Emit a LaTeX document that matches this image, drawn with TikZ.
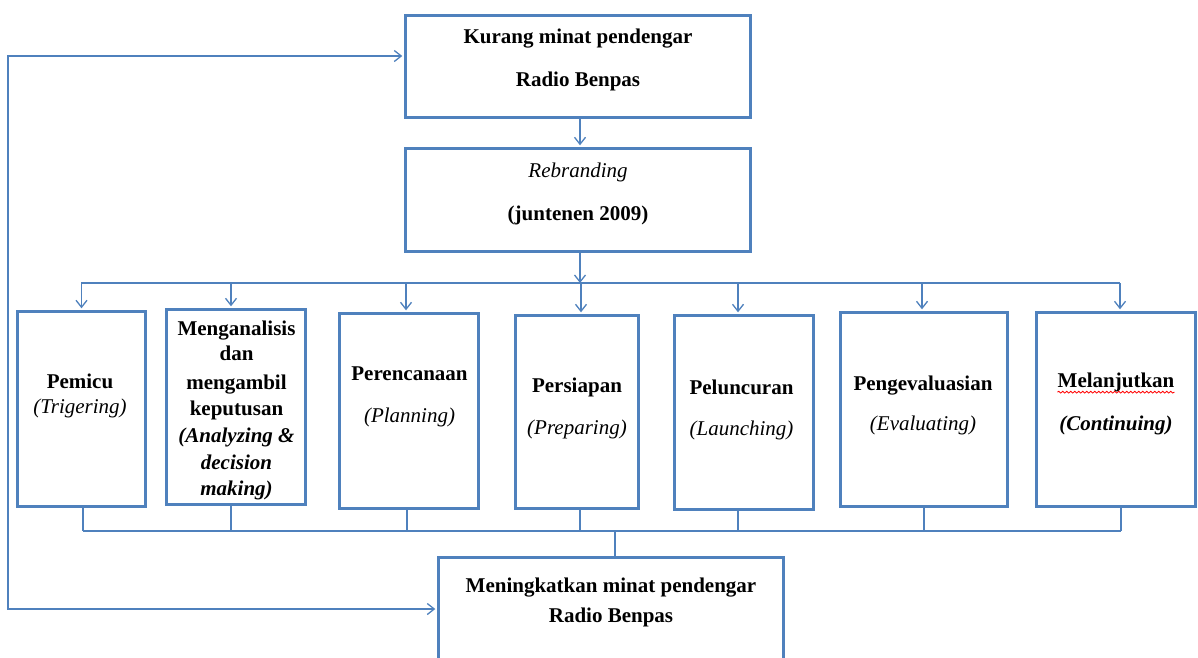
\documentclass[tikz,border=0pt]{standalone}
\usepackage{fontspec}
\setmainfont{Liberation Serif}
\usetikzlibrary{arrows.meta,decorations.pathmorphing}
\definecolor{boxblue}{HTML}{4F81BD}
\definecolor{linkblue}{HTML}{4F81BD}
\begin{document}
\begin{tikzpicture}[x=1pt,y=-1pt,
  box/.style={draw=boxblue,line width=3.2pt,inner sep=0pt},
  conn/.style={draw=linkblue,line width=1.3pt},
  barb/.tip={Straight Barb[length=7pt,width=11pt,line width=1.3pt]},
  arr/.style={conn,-barb,shorten >=1.6pt},
  lbl/.style={font=\fontsize{21}{25}\selectfont\bfseries,anchor=base,inner sep=0pt},
  ilbl/.style={font=\fontsize{21}{25}\selectfont\itshape,anchor=base,inner sep=0pt},
  bilbl/.style={font=\fontsize{21}{25}\selectfont\bfseries\itshape,anchor=base,inner sep=0pt}]

\useasboundingbox (0,0) rectangle (1198,657);
\clip (0,0) rectangle (1198,657);

% boxes
\node[box,minimum width=345,minimum height=102] (top) at (578,66.5) {};
\node[box,minimum width=345,minimum height=103] (reb) at (578,200) {};
\node[box,minimum width=128,minimum height=195] (b1) at (81.5,409) {};
\node[box,minimum width=139,minimum height=195] (b2) at (236,407) {};
\node[box,minimum width=139,minimum height=195] (b3) at (409,411) {};
\node[box,minimum width=123,minimum height=193] (b4) at (577,412) {};
\node[box,minimum width=139,minimum height=194] (b5) at (744,412.5) {};
\node[box,minimum width=167,minimum height=194] (b6) at (924,409.5) {};
\node[box,minimum width=159,minimum height=194] (b7) at (1116,409.5) {};
\node[box,minimum width=345,minimum height=141] (bot) at (611,628) {};

% texts
\node[lbl] (t1) at (578,43) {Kurang minat pendengar};
\node[lbl] (t2) at (578,86) {Radio Benpas};
\node[ilbl] (r1) at (578,177) {Rebranding};
\node[lbl] (r2) at (578,220) {(juntenen 2009)};

\node[lbl] (p1) at (80,388) {Pemicu};
\node[ilbl] (p2) at (80,413) {(Trigering)};

\node[lbl] (m1) at (236.5,335) {Menganalisis};
\node[lbl] (m2) at (236.5,360) {dan};
\node[lbl] (m3) at (236.5,389) {mengambil};
\node[lbl] (m4) at (236.5,415) {keputusan};
\node[bilbl] (m5) at (236.5,442) {(Analyzing \&};
\node[bilbl] (m6) at (236.5,469) {decision};
\node[bilbl] (m7) at (236.5,495) {making)};

\node[lbl] (c1) at (409.5,380) {Perencanaan};
\node[ilbl] (c2) at (409.5,422) {(Planning)};

\node[lbl] (s1) at (577,392) {Persiapan};
\node[ilbl] (s2) at (577,434) {(Preparing)};

\node[lbl] (l1) at (741.5,394) {Peluncuran};
\node[ilbl] (l2) at (741.5,435) {(Launching)};

\node[lbl] (e1) at (923,390) {Pengevaluasian};
\node[ilbl] (e2) at (923,430) {(Evaluating)};

\node[lbl] (j1) at (1116,387) {Melanjutkan};
\node[bilbl] (j2) at (1116,430) {(Continuing)};
\draw[red,line width=0.8pt,decorate,decoration={snake,amplitude=0.9pt,segment length=4pt}]
  ([yshift=-0.5pt]j1.south west) -- ([yshift=-0.5pt]j1.south east);

\node[lbl] (k1) at (611,592) {Meningkatkan minat pendengar};
\node[lbl] (k2) at (611,622) {Radio Benpas};

% connectors
\draw[arr] ([xshift=2pt]top.south) -- ([xshift=2pt]reb.north);
\coordinate (busTL) at (81,283);
\coordinate (busTR) at (1120,283);
\coordinate (busT) at (580,283);
\draw[conn] (busTL) -- (busTR);
\draw[arr,shorten >=0pt] ([xshift=2pt]reb.south) -- (busT);
\draw[arr] (b1.north |- busTL) -- (b1.north);
\draw[arr] ([xshift=-5pt]b2.north |- busTL) -- ([xshift=-5pt]b2.north);
\draw[arr] ([xshift=-3pt]b3.north |- busTL) -- ([xshift=-3pt]b3.north);
\draw[arr] ([xshift=4pt]b4.north |- busTL) -- ([xshift=4pt]b4.north);
\draw[arr] ([xshift=-6pt]b5.north |- busTL) -- ([xshift=-6pt]b5.north);
\draw[arr] ([xshift=-2pt]b6.north |- busTL) -- ([xshift=-2pt]b6.north);
\draw[arr] ([xshift=4pt]b7.north |- busTL) -- ([xshift=4pt]b7.north);

\coordinate (busBL) at (83,531);
\coordinate (busBR) at (1121,531);
\draw[conn] (busBL) -- (busBR);
\draw[conn] ([xshift=1.5pt]b1.south) -- ([xshift=1.5pt]b1.south |- busBL);
\draw[conn] ([xshift=-5pt]b2.south) -- ([xshift=-5pt]b2.south |- busBL);
\draw[conn] ([xshift=-2pt]b3.south) -- ([xshift=-2pt]b3.south |- busBL);
\draw[conn] ([xshift=3pt]b4.south) -- ([xshift=3pt]b4.south |- busBL);
\draw[conn] ([xshift=-6pt]b5.south) -- ([xshift=-6pt]b5.south |- busBL);
\draw[conn] (b6.south) -- (b6.south |- busBL);
\draw[conn] ([xshift=5pt]b7.south) -- ([xshift=5pt]b7.south |- busBL);
\draw[conn] ([xshift=4pt]bot.north |- busBL) -- ([xshift=4pt]bot.north);

% feedback loop
\coordinate (loopT) at (8,56);
\coordinate (loopB) at (8,609);
\draw[conn,barb-barb,shorten <=1.6pt,shorten >=1.6pt]
  ([yshift=10.5pt]top.west) -- (loopT) -- (loopB) -- ([yshift=19pt]bot.west);
\end{tikzpicture}
\end{document}
